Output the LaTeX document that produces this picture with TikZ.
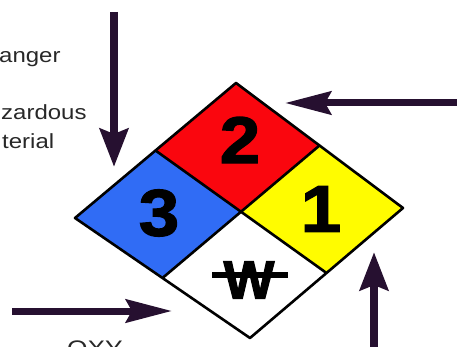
\documentclass[tikz,border=0pt]{standalone}
\usepackage{fontspec}
\setmainfont{Liberation Sans}
\newfontfamily\labfont[FakeStretch=1.17]{Liberation Sans}
\newfontfamily\digfont[FakeStretch=1.1,FakeBold=2]{Liberation Sans}
\newfontfamily\wfont[FakeBold=2]{Liberation Sans}
\usetikzlibrary{arrows.meta,calc}
\definecolor{arrcol}{RGB}{38,16,48}
\definecolor{healthcol}{RGB}{48,108,245}
\definecolor{firecol}{RGB}{250,6,14}
\definecolor{reactcol}{RGB}{255,252,0}
\definecolor{txtcol}{RGB}{40,40,40}

\begin{document}
\begin{tikzpicture}[
  x=1pt, y=-1pt,
  lab/.style={font=\labfont\fontsize{20.5}{24}\selectfont, text=txtcol, inner sep=0pt, anchor=base west},
  digit/.style={font=\digfont\bfseries\fontsize{66}{66}\selectfont, inner sep=0pt},
  quad/.style={draw=black, line width=2.6pt, line join=round},
  varr/.style={arrcol, line width=8.5pt, -{Stealth[length=38pt, width=28pt, inset=5pt]}},
  harr/.style={arrcol, line width=7pt, -{Stealth[length=46pt, width=23pt, inset=6pt]}}
]
\useasboundingbox (0,0) rectangle (457,347);

% =================== diamond ===================
\coordinate (T) at (236,83);
\coordinate (R) at (403,208);
\coordinate (B) at (250,338);
\coordinate (L) at (75,218);
\coordinate (TL) at ($(T)!.5!(L)$);
\coordinate (TR) at ($(T)!.5!(R)$);
\coordinate (BL) at ($(B)!.5!(L)$);
\coordinate (BR) at ($(B)!.5!(R)$);
\coordinate (C) at ($(TL)!.5!(BR)$);

\fill[firecol] (T) -- (TR) -- (C) -- (TL) -- cycle;
\fill[healthcol] (L) -- (TL) -- (C) -- (BL) -- cycle;
\fill[reactcol] (R) -- (TR) -- (C) -- (BR) -- cycle;
\draw[quad] (T) -- (R) -- (B) -- (L) -- cycle;
\draw[quad] (TL) -- (BR);
\draw[quad] (TR) -- (BL);

% =================== ratings ===================
\node[digit] (fire) at (240,140) {2};
\node[digit] (health) at (159,213) {3};
\node[digit] (react) at (321,209) {1};
\node[digit, font=\wfont\bfseries\fontsize{54}{54}\selectfont] (water) at (249,280) {W};
\draw[line width=5.5pt] ($(water.center)+(-37,-5)$) -- ($(water.center)+(39,-5)$);

% =================== labels ===================
\node[lab] (danger) at (-1,63) {anger};
\node[lab] (hazard) at (1,120) {zardous};
\node[lab] (material) at (2,149) {terial};
\node[lab, font=\labfont\fontsize{22.5}{24}\selectfont] (oxy) at (67,356) {OXY};

% =================== arrows ===================
\coordinate (topS) at (114,12);
\coordinate (topE) at (114,167);
\coordinate (rightS) at (458,103);
\coordinate (rightE) at (285,103);
\coordinate (leftS) at (12,311);
\coordinate (leftE) at (172,311);
\coordinate (botS) at (374,349);
\coordinate (botE) at (374,252);
\draw[varr] (topS) -- (topE);
\draw[harr] (rightS) -- (rightE);
\draw[harr] (leftS) -- (leftE);
\draw[varr] (botS) -- (botE);

\end{tikzpicture}
\end{document}
